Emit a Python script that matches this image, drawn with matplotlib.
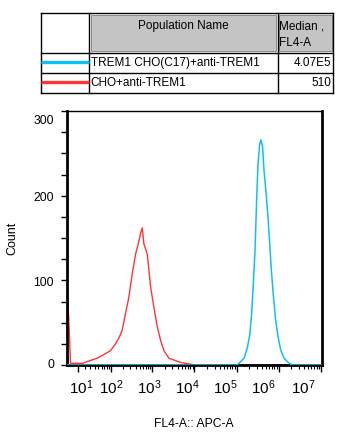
import matplotlib
matplotlib.use('Agg')
import matplotlib.pyplot as plt
from matplotlib.patches import Rectangle
from matplotlib.transforms import ScaledTranslation

plt.rcParams['font.family'] = ['Liberation Sans', 'DejaVu Sans']
plt.rcParams['mathtext.fontset'] = 'custom'
plt.rcParams['mathtext.rm'] = 'Liberation Sans'
plt.rcParams['mathtext.it'] = 'Liberation Sans:italic'

# population table
populations = ['TREM1 CHO(C17)+anti-TREM1', 'CHO+anti-TREM1']
medians = ['4.07E5', '510']
colors = ['#10C0F0', '#FF3535']

# histogram of CHO+anti-TREM1 (FL4-A value, count)
red_x = [-3, -3, -0.5, 1.5, 17, 24, 46, 67, 100, 132, 156, 191, 229, 275, 332,
         398, 477, 524, 575, 627, 755, 906, 1085, 1307, 1568, 1877, 2470, 4700,
         10700, 1.05e7]
red_y = [0, 102, 55, 2, 2, 4, 8, 12, 17, 25, 31, 41, 61, 80, 108,
         131, 146, 156, 162, 143, 131, 92, 68, 45, 29, 17, 8, 3,
         0, 0]

# histogram of TREM1 CHO(C17)+anti-TREM1 (log10 FL4-A value, count)
cyan_logx = [5.00, 5.06, 5.18, 5.26, 5.32, 5.36, 5.40, 5.44, 5.48, 5.51, 5.55,
             5.58, 5.62, 5.65, 5.70, 5.75, 5.79, 5.83, 5.88, 5.93, 5.99, 6.05,
             6.13, 6.23, 6.33]
cyan_y = [0, 2, 8, 21, 37, 61, 96, 135, 197, 236, 260,
          266, 258, 232, 205, 174, 143, 111, 80, 53, 33, 18,
          8, 3, 0]

decades = [1, 2, 3, 4, 5, 6, 7]
count_ticks = [0, 100, 200, 300]
label_shift_px = [4, 1, -3, -7, -11, -15, -17]
ylabel_shift_px = [2, -1, -1, -9]

W, H = 352, 441
fig = plt.figure(figsize=(W / 100, H / 100), dpi=100)

# ---- table at the top (pixel coordinates) ----
tab = fig.add_axes([0, 0, 1, 1])
tab.set_xlim(0, W)
tab.set_ylim(H, 0)
tab.axis('off')

xs = [40.7, 89.3, 277.7, 333.3]
ys = [13, 52.7, 72.7, 93.3]
for x0, x1 in [(xs[1], xs[2]), (xs[2], xs[3])]:
    tab.add_patch(Rectangle((x0 + 1.5, ys[0] + 1.5), x1 - x0 - 3, ys[1] - ys[0] - 3,
                            facecolor='#C4C4C4', edgecolor='#8A8A8A', lw=0.7))
for x in xs:
    tab.plot([x, x], [ys[0], ys[-1]], color='black', lw=1.0)
for y in ys:
    tab.plot([xs[0], xs[-1]], [y, y], color='black', lw=1.0)

fs = 8.5
tab.text((xs[1] + xs[2]) / 2, 26, 'Population Name', ha='center', va='center', fontsize=fs)
tab.text(xs[2] + 1, 26.5, 'Median ,', ha='left', va='center', fontsize=fs)
tab.text(xs[2] + 1, 43.5, 'FL4-A', ha='left', va='center', fontsize=fs)
for i in range(len(populations)):
    yc = (ys[i + 1] + ys[i + 2]) / 2
    tab.plot([xs[0], xs[1]], [yc - 1, yc - 1], color=colors[i], lw=2.4, solid_capstyle='butt')
    tab.text(xs[1] + 1.5, yc, populations[i], ha='left', va='center', fontsize=fs)
    tab.text(xs[3] - 1.5, yc, medians[i], ha='right', va='center', fontsize=fs)

# ---- histogram ----
ax = fig.add_axes([66.5 / W, 1 - 365 / H, 255 / W, 254 / H])
ax.set_xscale('asinh', linear_width=21)

ax.plot(red_x, red_y, color=colors[1], lw=1.0, zorder=2)
cyan_x = [-3] + [10 ** v for v in cyan_logx] + [1.05e7]
ax.plot(cyan_x, [0] + cyan_y + [0], color=colors[0], lw=1.1, zorder=3)

ax.set_xlim(-3.1, 1.05e7)
ax.set_ylim(0, 300)

ax.set_xticks([10 ** d for d in decades])
ax.set_xticklabels([r'$\mathregular{10^{%d}}$' % d for d in decades], fontsize=11)
minor = [k * 10 ** j for j in range(1, 7) for k in range(2, 10)]
ax.set_xticks(minor, minor=True)
ax.set_yticks(count_ticks)
ax.set_yticks(range(0, 301, 25), minor=True)
ax.tick_params(axis='y', which='both', length=4, width=1.0, labelsize=8.7, pad=5)
ax.tick_params(axis='x', which='major', length=5, width=1.0, pad=5)
ax.tick_params(axis='x', which='minor', length=3, width=0.8)

# FlowJo places its axis labels slightly off the ticks
for tick, dx in zip(ax.xaxis.get_major_ticks(), label_shift_px):
    tick.label1.set_transform(tick.label1.get_transform() +
                              ScaledTranslation(dx / 100, 0, fig.dpi_scale_trans))
for tick, dy in zip(ax.yaxis.get_major_ticks(), ylabel_shift_px):
    tick.label1.set_transform(tick.label1.get_transform() +
                              ScaledTranslation(0, dy / 100, fig.dpi_scale_trans))

for side, lw in [('left', 2.0), ('bottom', 2.0), ('right', 2.0), ('top', 1.0)]:
    ax.spines[side].set_linewidth(lw)

ax.set_ylabel('Count', fontsize=9, va='center')
ax.yaxis.set_label_coords(-0.214, 0.5)
ax.set_xlabel('FL4-A:: APC-A', fontsize=8.7, va='center')
ax.xaxis.set_label_coords(0.5, -0.232)

fig.savefig('out.png', dpi=100)
